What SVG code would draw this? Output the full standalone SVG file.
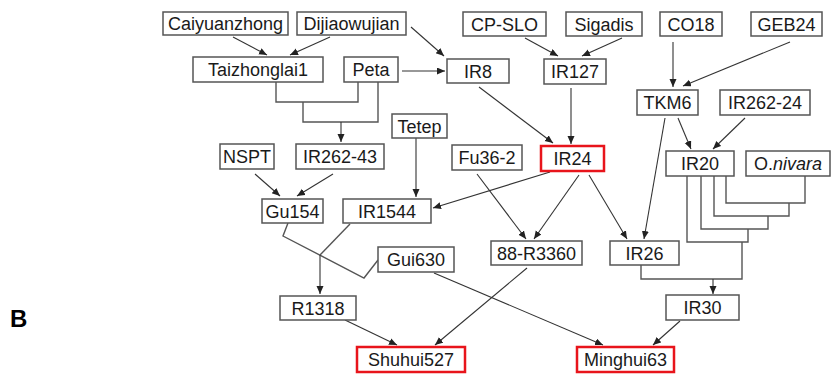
<svg xmlns="http://www.w3.org/2000/svg" width="832" height="374" viewBox="0 0 832 374">
<style>
rect{fill:#fff;stroke:#555;stroke-width:1.5}
rect.red{stroke:#e8141b;stroke-width:2.5}
text{font-family:"Liberation Sans",Arial,sans-serif;font-size:18px;fill:#1a1a1a;text-anchor:middle}
.c line,.c polyline{stroke:#333;stroke-width:1.1;fill:none}
.c .a{marker-end:url(#ah)}
.c .b{stroke:#555;stroke-width:1.4}
</style>
<defs>
<marker id="ah" markerUnits="userSpaceOnUse" markerWidth="9" markerHeight="8" refX="8" refY="3.5" orient="auto">
<path d="M0,0 L8,3.5 L0,7 z" fill="#222"/>
</marker>
</defs>
<rect width="832" height="374" style="fill:#fff;stroke:none"/>
<g class="c" id="connectors">
<line class="a" x1="233" y1="37" x2="267" y2="55"/>
<line class="a" x1="330" y1="37" x2="290" y2="55"/>
<line class="a" x1="411" y1="27" x2="444" y2="56"/>
<line class="a" x1="402" y1="71" x2="445" y2="71"/>
<line class="a" x1="525" y1="38" x2="558" y2="56"/>
<line class="a" x1="622" y1="38" x2="582" y2="56"/>
<line class="a" x1="673" y1="42" x2="673" y2="87"/>
<line class="a" x1="790" y1="42" x2="683" y2="86"/>
<line class="a" x1="479" y1="87" x2="553" y2="143"/>
<line class="a" x1="571" y1="88" x2="571" y2="144"/>
<line class="a" x1="678" y1="118" x2="691" y2="149"/>
<line class="a" x1="745" y1="118" x2="713" y2="149"/>
<line class="a" x1="665" y1="118" x2="644" y2="239"/>
<polyline class="b" points="276,82 276,102 358,102 358,82"/>
<polyline class="b" points="303,102 303,122 378,122 378,82"/>
<line class="a" x1="341" y1="122" x2="341" y2="142"/>
<line class="a" x1="416" y1="138" x2="416" y2="197"/>
<line class="a" x1="255" y1="174" x2="280" y2="196"/>
<line class="a" x1="333" y1="174" x2="297" y2="196"/>
<line class="a" x1="550" y1="172" x2="433" y2="208"/>
<line class="a" x1="579" y1="175" x2="534" y2="239"/>
<line class="a" x1="477" y1="174" x2="526" y2="239"/>
<line class="a" x1="589" y1="175" x2="627" y2="239"/>
<polyline class="b" points="288,223 283,236 364,278 378,260"/>
<line class="b" x1="350" y1="224" x2="320" y2="255"/>
<line class="a" x1="320" y1="255" x2="320" y2="294"/>
<line class="a" x1="345" y1="320" x2="397" y2="345"/>
<line class="a" x1="527" y1="268" x2="435" y2="345"/>
<line class="a" x1="434" y1="273" x2="603" y2="345"/>
<line class="a" x1="680" y1="321" x2="653" y2="345"/>
<polyline class="b" points="641,265 641,279 742,279 742,242"/>
<polyline class="b" points="726,176 726,203 805,203 805,176"/>
<polyline class="b" points="714,176 714,216 789,216 789,203"/>
<polyline class="b" points="701,176 701,229 768,229 768,216"/>
<polyline class="b" points="687,176 687,242 748,242 748,229"/>
<line class="a" x1="713" y1="279" x2="713" y2="294"/>
</g>
<g id="n-caiyuanzhong"><rect x="163" y="12" width="125" height="23"/><text x="225.5" y="30">Caiyuanzhong</text></g>
<g id="n-dijiaowujian"><rect x="297" y="12" width="109" height="23"/><text x="351.5" y="30">Dijiaowujian</text></g>
<g id="n-cpslo"><rect x="463" y="12" width="83" height="24"/><text x="504.5" y="30.5">CP-SLO</text></g>
<g id="n-sigadis"><rect x="566" y="12" width="76" height="24"/><text x="604" y="30.5">Sigadis</text></g>
<g id="n-co18"><rect x="660" y="12" width="62" height="24"/><text x="691" y="30.5">CO18</text></g>
<g id="n-geb24"><rect x="751" y="12" width="71" height="24"/><text x="786.5" y="30.5">GEB24</text></g>
<g id="n-taizhonglai1"><rect x="193" y="57" width="130" height="25"/><text x="258" y="76">Taizhonglai1</text></g>
<g id="n-peta"><rect x="344" y="57" width="54" height="25"/><text x="371" y="76">Peta</text></g>
<g id="n-ir8"><rect x="447" y="59" width="62" height="24"/><text x="478" y="77.5">IR8</text></g>
<g id="n-ir127"><rect x="544" y="59" width="62" height="25"/><text x="575" y="78">IR127</text></g>
<g id="n-tkm6"><rect x="637" y="90" width="61" height="25"/><text x="667.5" y="109">TKM6</text></g>
<g id="n-ir262-24"><rect x="720" y="90" width="90" height="25"/><text x="765" y="109">IR262-24</text></g>
<g id="n-tetep"><rect x="392" y="114" width="55" height="24"/><text x="419.5" y="132.5">Tetep</text></g>
<g id="n-nspt"><rect x="220" y="144" width="54" height="25"/><text x="247" y="163">NSPT</text></g>
<g id="n-ir262-43"><rect x="296" y="144" width="88" height="25"/><text x="340" y="163">IR262-43</text></g>
<g id="n-fu36-2"><rect x="452" y="145" width="70" height="25"/><text x="487" y="164">Fu36-2</text></g>
<g id="n-ir24"><rect class="red" x="541" y="146" width="63" height="25"/><text x="572.5" y="165">IR24</text></g>
<g id="n-ir20"><rect x="666" y="151" width="68" height="25"/><text x="700" y="170">IR20</text></g>
<g id="n-onivara"><rect x="746" y="151" width="84" height="25"/><text x="788" y="170">O.<tspan font-style="italic">nivara</tspan></text></g>
<g id="n-gu154"><rect x="262" y="199" width="61" height="24"/><text x="292.5" y="217.5">Gu154</text></g>
<g id="n-ir1544"><rect x="343" y="199" width="88" height="24"/><text x="387" y="217.5">IR1544</text></g>
<g id="n-88r3360"><rect x="491" y="241" width="91" height="24"/><text x="536.5" y="259.5">88-R3360</text></g>
<g id="n-ir26"><rect x="610" y="241" width="69" height="24"/><text x="644.5" y="259.5">IR26</text></g>
<g id="n-gui630"><rect x="378" y="247" width="76" height="25"/><text x="416" y="266">Gui630</text></g>
<g id="n-r1318"><rect x="280" y="296" width="76" height="24"/><text x="318" y="314.5">R1318</text></g>
<g id="n-ir30"><rect x="666" y="295" width="73" height="25"/><text x="702.5" y="314">IR30</text></g>
<g id="n-shuhui527"><rect class="red" x="357" y="347" width="108" height="25"/><text x="411" y="366">Shuhui527</text></g>
<g id="n-minghui63"><rect class="red" x="577" y="347" width="97" height="25"/><text x="625.5" y="366">Minghui63</text></g>
<text x="10" y="327" style="text-anchor:start;font-weight:bold;font-size:24px;fill:#000">B</text>
</svg>
